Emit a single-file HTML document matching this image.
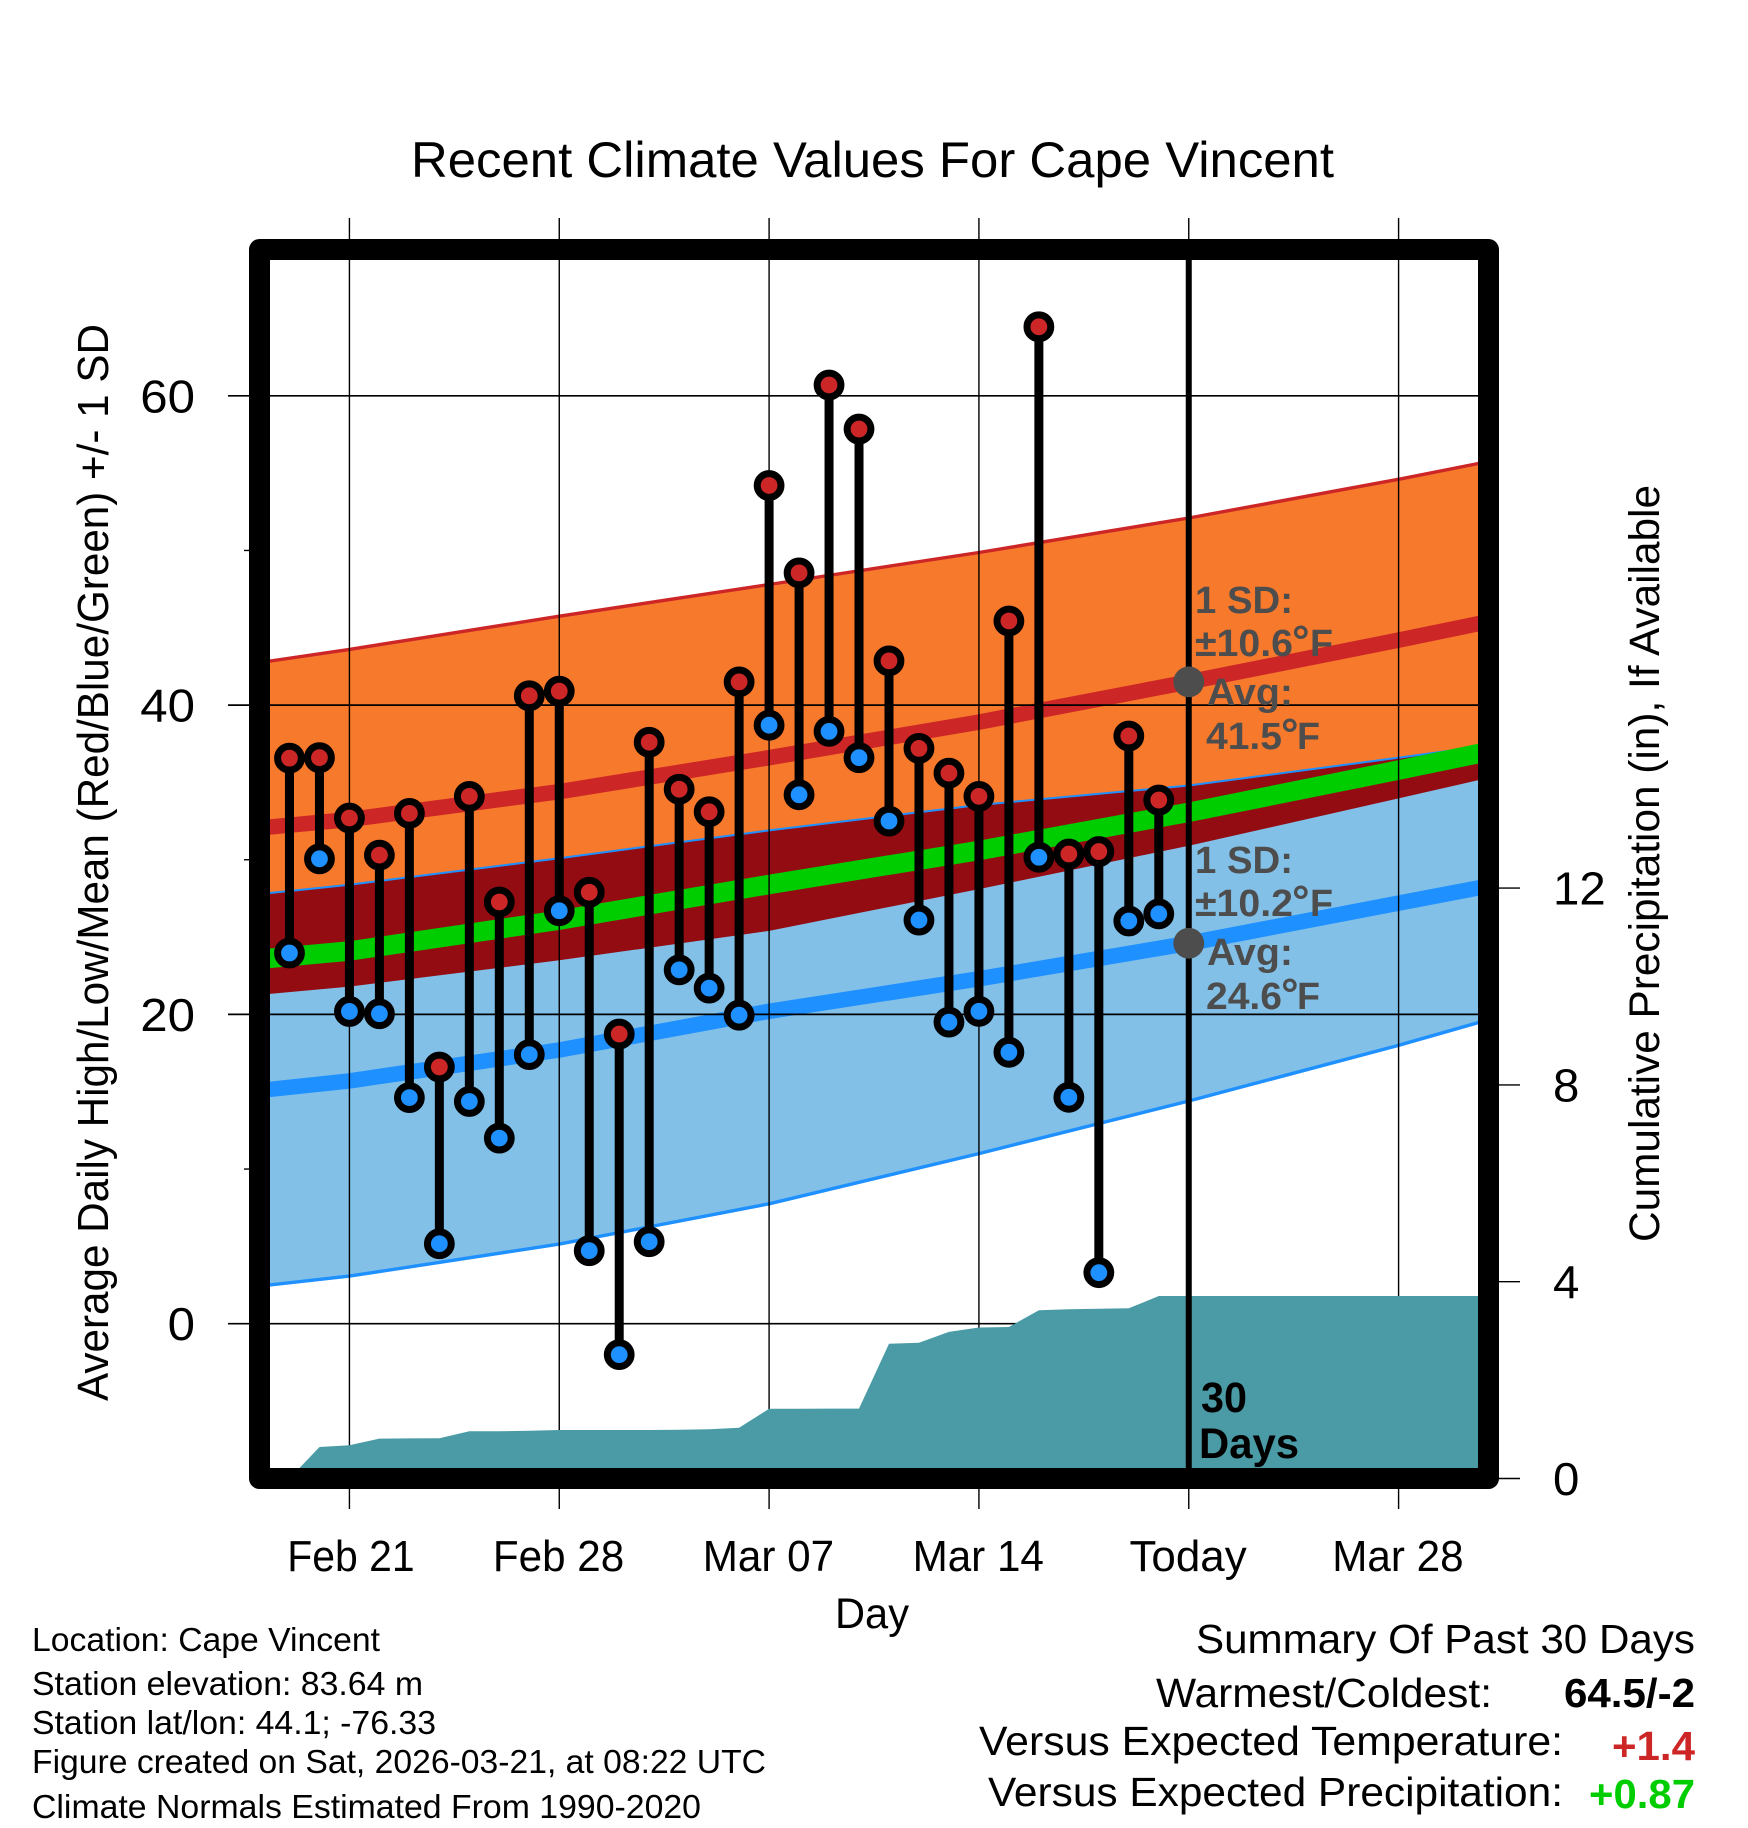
<!DOCTYPE html>
<html lang="en">
<head>
<meta charset="utf-8">
<title>Recent Climate Values For Cape Vincent</title>
<style>
html,body{margin:0;padding:0;background:#fff;}
svg{display:block;}
text{font-family:"Liberation Sans",Arial,sans-serif;fill:#000;}
.bold{font-weight:bold;}
.note{font-weight:bold;fill:#4d4d4d;font-size:38px;}
.ring{font-size:44px;}
</style>
</head>
<body>
<svg id="chart" xmlns="http://www.w3.org/2000/svg" width="1748" height="1828" viewBox="0 0 1748 1828">
  <defs>
    <clipPath id="plot-clip"><rect x="270" y="260" width="1208" height="1208"/></clipPath>
  </defs>
  <rect x="0" y="0" width="1748" height="1828" fill="#fff"/>
  <g id="bands" clip-path="url(#plot-clip)"></g>
  <g id="grid"></g>
  <g id="precip" clip-path="url(#plot-clip)"></g>
  <g id="today"></g>
  <g id="marks" clip-path="url(#plot-clip)"></g>
  <g id="avgdots"></g>

  <text x="411" y="177" font-size="50" textLength="923" lengthAdjust="spacingAndGlyphs">Recent Climate Values For Cape Vincent</text>
  <text transform="translate(108,1401) rotate(-90)" font-size="44" textLength="1077" lengthAdjust="spacingAndGlyphs">Average Daily High/Low/Mean (Red/Blue/Green) +/- 1 SD</text>
  <text transform="translate(1659,1242) rotate(-90)" font-size="43" textLength="757" lengthAdjust="spacingAndGlyphs">Cumulative Precipitation (in), If Available</text>
  <text x="835" y="1628" font-size="43" textLength="74" lengthAdjust="spacingAndGlyphs">Day</text>

  <g>
    <text class="note" x="1195" y="613" textLength="98" lengthAdjust="spacingAndGlyphs">1 SD:</text>
    <text class="note" y="656"><tspan x="1195" y="656" textLength="98" lengthAdjust="spacingAndGlyphs">±10.6</tspan><tspan class="ring" x="1292" y="656">°</tspan><tspan x="1310" y="656" textLength="23" lengthAdjust="spacingAndGlyphs">F</tspan></text>
    <text class="note" x="1207" y="705" textLength="86" lengthAdjust="spacingAndGlyphs">Avg:</text>
    <text class="note" y="749"><tspan x="1206" y="749" textLength="76" lengthAdjust="spacingAndGlyphs">41.5</tspan><tspan class="ring" x="1281" y="749">°</tspan><tspan x="1297" y="749" textLength="23" lengthAdjust="spacingAndGlyphs">F</tspan></text>
  </g>
  <g>
    <text class="note" x="1195" y="873" textLength="98" lengthAdjust="spacingAndGlyphs">1 SD:</text>
    <text class="note" y="916"><tspan x="1195" y="916" textLength="98" lengthAdjust="spacingAndGlyphs">±10.2</tspan><tspan class="ring" x="1292" y="916">°</tspan><tspan x="1310" y="916" textLength="23" lengthAdjust="spacingAndGlyphs">F</tspan></text>
    <text class="note" x="1207" y="965" textLength="86" lengthAdjust="spacingAndGlyphs">Avg:</text>
    <text class="note" y="1009"><tspan x="1206" y="1009" textLength="76" lengthAdjust="spacingAndGlyphs">24.6</tspan><tspan class="ring" x="1281" y="1009">°</tspan><tspan x="1297" y="1009" textLength="23" lengthAdjust="spacingAndGlyphs">F</tspan></text>
  </g>
  <text class="bold" x="1201" y="1412" font-size="43" textLength="46" lengthAdjust="spacingAndGlyphs">30</text>
  <text class="bold" x="1199" y="1458" font-size="43" textLength="100" lengthAdjust="spacingAndGlyphs">Days</text>

  <rect x="259.5" y="249.5" width="1229" height="1229" fill="none" stroke="#000" stroke-width="21" stroke-linejoin="round"/>

  <g font-size="33">
    <text x="32" y="1651" textLength="348" lengthAdjust="spacingAndGlyphs">Location: Cape Vincent</text>
    <text x="32" y="1695" textLength="391" lengthAdjust="spacingAndGlyphs">Station elevation: 83.64 m</text>
    <text x="32" y="1734" textLength="404" lengthAdjust="spacingAndGlyphs">Station lat/lon: 44.1; -76.33</text>
    <text x="32" y="1773" textLength="734" lengthAdjust="spacingAndGlyphs">Figure created on Sat, 2026-03-21, at 08:22 UTC</text>
    <text x="32" y="1818" textLength="669" lengthAdjust="spacingAndGlyphs">Climate Normals Estimated From 1990-2020</text>
  </g>
  <g font-size="41">
    <text x="1196" y="1653" textLength="499" lengthAdjust="spacingAndGlyphs">Summary Of Past 30 Days</text>
    <text x="1156" y="1707" textLength="336" lengthAdjust="spacingAndGlyphs">Warmest/Coldest:</text>
    <text class="bold" x="1564" y="1707" textLength="131" lengthAdjust="spacingAndGlyphs">64.5/-2</text>
    <text x="979" y="1755" textLength="584" lengthAdjust="spacingAndGlyphs">Versus Expected Temperature:</text>
    <text class="bold" x="1612" y="1760" textLength="83" lengthAdjust="spacingAndGlyphs" style="fill:#cd2626">+1.4</text>
    <text x="988" y="1806" textLength="575" lengthAdjust="spacingAndGlyphs">Versus Expected Precipitation:</text>
    <text class="bold" x="1589" y="1808" textLength="106" lengthAdjust="spacingAndGlyphs" style="fill:#00cd00">+0.87</text>
  </g>
  <g id="ticks"></g>
</svg>

<script>
// ---- chart data ----
const observedDays = [-2,-1,0,1,2,3,4,5,6,7,8,9,10,11,12,13,14,15,16,17,18,19,20,21,22,23,24,25,26,27];
const dailyHighs = [36.57,36.6,32.7,30.3,33.0,16.6,34.1,27.27,40.6,40.9,27.9,18.73,37.6,34.56,33.1,41.5,54.2,48.55,60.7,57.85,42.86,37.2,35.6,34.1,45.44,64.46,30.37,30.53,38.0,33.86];
const dailyLows = [23.97,30.06,20.19,20.04,14.62,5.17,14.37,12.0,17.4,26.7,4.72,-2.0,5.3,22.88,21.7,19.95,38.7,34.2,38.3,36.6,32.5,26.1,19.5,20.2,17.55,30.16,14.64,3.3,26.04,26.5];

const normalDays = [-3,0,7,14,21,28,35,38];
const highPlusSd = [42.75,43.6,45.75,47.8,49.87,52.1,54.6,55.75];
const highMean = [32.05,32.6,34.4,36.6,38.9,41.5,44.2,45.4];
const highMinusSd = [21.27,21.8,23.5,25.4,28.1,30.9,33.97,35.3];
const lowPlusSd = [27.78,28.38,30.1,31.9,33.54,34.8,36.6,37.4];
const lowMean = [15.08,15.7,17.7,20.2,22.3,24.6,27.2,28.3];
const lowMinusSd = [2.43,3.08,5.15,7.75,11.0,14.4,18.0,19.66];
const dailyMean = [23.56,24.1,26.1,28.4,30.6,33.07,35.8,37.0];

const precipDays = [-2,-1,0,1,2,3,4,5,6,7,8,9,10,11,12,13,14,15,16,17,18,19,20,21,22,23,24,25,26,27,38];
const precipValues = [0,0.64,0.675,0.81,0.815,0.82,0.96,0.96,0.97,0.985,0.985,0.985,0.985,0.99,1.0,1.03,1.417,1.417,1.42,1.42,2.74,2.76,2.98,3.07,3.08,3.42,3.44,3.45,3.46,3.71,3.71];

const xTickDays = [0,7,14,21,28,35];
const xTickLabels = ["Feb 21","Feb 28","Mar 07","Mar 14","Today","Mar 28"];
const yMajorTicks = [0,20,40,60];
const yMinorTicks = [10,30,50];
const precipTicks = [0,4,8,12];
const todayDay = 28;
const todayAverages = [41.5,24.6];

// ---- axes ----
function xScale(d){ return 259.5 + 29.976 * (d + 3); }
function yScale(v){ return 1323.7 - 15.465 * v; }
function pScale(p){ return 1478.5 - 49.2 * p; }

const NS = "http://www.w3.org/2000/svg";
function make(tag, parent, attrs){
  const el = document.createElementNS(NS, tag);
  for (const k in attrs) el.setAttribute(k, attrs[k]);
  parent.appendChild(el);
  return el;
}
function pts(days, vals){
  return days.map(function(d,i){ return xScale(d).toFixed(1)+","+yScale(vals[i]).toFixed(1); });
}
function band(upper, lower){
  return pts(normalDays, upper).concat(pts(normalDays, lower).reverse()).join(" ");
}

const bands = document.getElementById("bands");
const highBand = make("polygon", bands, {points: band(highPlusSd, highMinusSd), fill: "#f7792c"});


const lowBand = make("polygon", bands, {points: band(lowPlusSd, lowMinusSd), fill: "#82c0e8"});


const overlapBand = make("polygon", bands, {points: band(lowPlusSd, highMinusSd), fill: "#930c12"});



function curve(vals, color, width){
  return make("polyline", bands, {points: pts(normalDays, vals).join(" "), fill: "none", stroke: color, "stroke-width": width, "stroke-linejoin": "round"});
}
const lineLowUpper = curve(lowPlusSd, "#1e90ff", 2);


const lineHighUpper = curve(highPlusSd, "#cd2626", 3.4);


const lineLowLower = curve(lowMinusSd, "#1e90ff", 3.4);


const lineHighMean = curve(highMean, "#cd2626", 15.5);


const lineLowMean = curve(lowMean, "#1e90ff", 15.5);


const lineMean = curve(dailyMean, "#00cd00", 19.5);



// grid + ticks
const grid = document.getElementById("grid");
const ticks = document.getElementById("ticks");
xTickDays.forEach(function(d, i){
  const gl = make("line", grid, {x1: xScale(d), x2: xScale(d), y1: 218, y2: 1509, stroke: "#000", "stroke-width": 1.4});
  
  
  const name = xTickLabels[i];
  const sx = name === "Today" ? 1.01 : (name === "Feb 21" ? 0.94 : 0.97);
  const dx = name === "Feb 21" ? 1.5 : -0.7;
  const lab = make("text", ticks, {transform: "translate(" + (xScale(d) + dx) + ",1571) scale(" + sx + ",1)", "text-anchor": "middle", "font-size": 43.5});
  lab.textContent = name;
  
  
});
yMajorTicks.forEach(function(v){
  const gl = make("line", grid, {x1: 228, x2: 1478, y1: yScale(v), y2: yScale(v), stroke: "#000", "stroke-width": 1.7});
  
  
  const lab = make("text", ticks, {transform: "translate(195," + (yScale(v) + 16.5) + ") scale(1.07,1)", "text-anchor": "end", "font-size": 46});
  lab.textContent = String(v);
  
  
});
yMinorTicks.forEach(function(v){
  const t = make("line", grid, {x1: 244, x2: 250, y1: yScale(v), y2: yScale(v), stroke: "#000", "stroke-width": 1.4});
  
  
});
precipTicks.forEach(function(p){
  const t = make("line", grid, {x1: 1498, x2: 1520, y1: pScale(p), y2: pScale(p), stroke: "#000", "stroke-width": 1.4});
  
  
  const lab = make("text", ticks, {transform: "translate(1553," + (pScale(p) + 16.5) + ") scale(1.03,1)", "font-size": 46});
  lab.textContent = String(p);
  
  
});

// precipitation area
const precip = document.getElementById("precip");
const areaPts = precipDays.map(function(d,i){ return xScale(d).toFixed(1)+","+pScale(precipValues[i]).toFixed(1); });
areaPts.push(xScale(38).toFixed(1)+","+pScale(0).toFixed(1));
areaPts.push(xScale(-2).toFixed(1)+","+pScale(0).toFixed(1));
const area = make("polygon", precip, {points: areaPts.join(" "), fill: "#4a9ba6"});



// today line
const todayLayer = document.getElementById("today");
const todayLine = make("line", todayLayer, {x1: xScale(todayDay), x2: xScale(todayDay), y1: 260, y2: 1468, stroke: "#000", "stroke-width": 6});



// daily marks
const marks = document.getElementById("marks");
observedDays.forEach(function(d, i){
  const x = xScale(d);
  const yHi = yScale(dailyHighs[i]);
  const yLo = yScale(dailyLows[i]);
  const stem = make("line", marks, {x1: x, x2: x, y1: yHi, y2: yLo, stroke: "#000", "stroke-width": 9});
  
  
  const hi = make("circle", marks, {cx: x, cy: yHi, r: 11.9, fill: "#cd2626", stroke: "#000", "stroke-width": 7});
  
  
  const lo = make("circle", marks, {cx: x, cy: yLo, r: 11.9, fill: "#1e90ff", stroke: "#000", "stroke-width": 7});
  
  
});

// today average dots
const avgLayer = document.getElementById("avgdots");
todayAverages.forEach(function(v){
  const dot = make("circle", avgLayer, {cx: xScale(todayDay), cy: yScale(v), r: 15.4, fill: "#4d4d4d"});
  
  
});
</script>
</body>
</html>
